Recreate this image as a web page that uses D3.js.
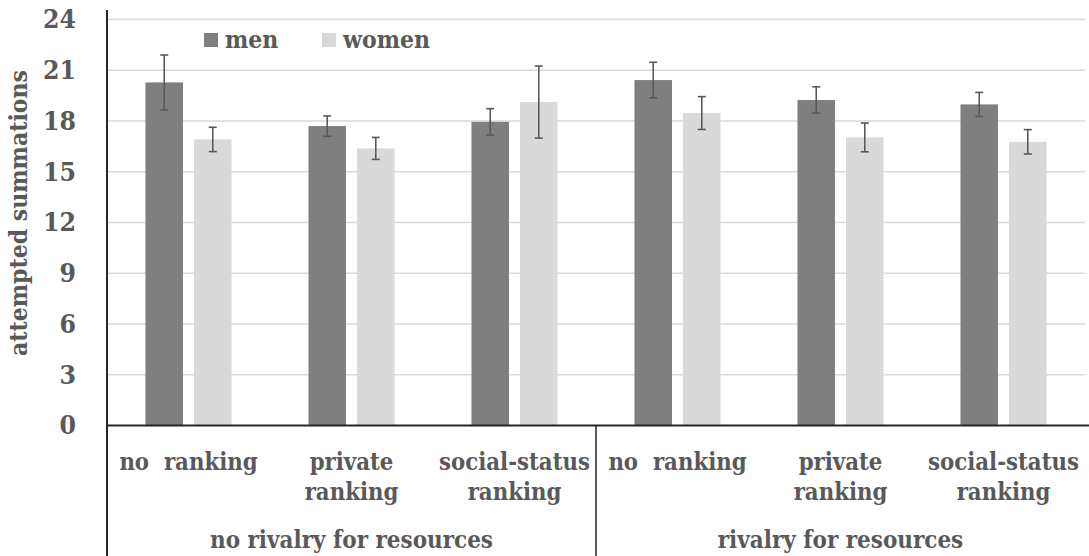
<!DOCTYPE html>
<html>
<head>
<meta charset="utf-8">
<script src="https://cdn.jsdelivr.net/npm/d3@7"></script>
<style>
  html, body { margin: 0; padding: 0; background: #fff; }
  svg { display: block; }
  text { font-family: "DejaVu Serif Condensed", "DejaVu Serif", serif; font-weight: bold; fill: #595959; white-space: pre; }
</style>
</head>
<body>
<svg id="chart" width="1089" height="556"></svg>
<script>
// ---- data ----
const groups = ["no rivalry for resources", "rivalry for resources"];
const conditions = [["no  ranking"], ["private", "ranking"], ["social-status", "ranking"]];
const categories = ["nr-none", "nr-private", "nr-social", "r-none", "r-private", "r-social"];
const seriesNames = ["men", "women"];
const menValues = [20.28, 17.70, 17.95, 20.42, 19.24, 18.98];
const womenValues = [16.91, 16.38, 19.12, 18.47, 17.03, 16.77];
const menErrors = [1.62, 0.60, 0.78, 1.05, 0.78, 0.71];
const womenErrors = [0.72, 0.65, 2.13, 0.97, 0.85, 0.72];
const yTicks = [0, 3, 6, 9, 12, 15, 18, 21, 24];
const colors = { men: "#7f7f7f", women: "#d9d9d9" };

const svg = d3.select("#chart");
const W = 1089, H = 556;
const plot = { left: 107, right: 1085, top: 19.5, bottom: 425.5 };

// measure helper to size fonts to reference widths
const meas = svg.append("text").attr("x", -1000).attr("y", -1000).style("font-size", "20px");
function fitSize(sample, target) {
  meas.text(sample);
  const w = meas.node().getComputedTextLength();
  return (20 * target / w).toFixed(2) + "px";
}
const tickFont = fitSize("24", 33);
const catFont = fitSize("social-status", 151);
const groupFont = fitSize("no rivalry for resources", 283);
const titleFont = fitSize("attempted summations", 286);
const legendFont = fitSize("women", 87);
meas.remove();

const y = d3.scaleLinear().domain([0, 24]).range([plot.bottom, plot.top]);
const x0 = d3.scaleBand().domain(categories).range([plot.left, plot.right])
  .paddingInner(0.472).paddingOuter(0.236);
const x1 = d3.scaleBand().domain(seriesNames).range([0, x0.bandwidth()]).paddingInner(0.227);

const data = categories.map((c, i) => ({
  key: c,
  men: menValues[i], women: womenValues[i],
  menErr: menErrors[i], womenErr: womenErrors[i]
}));

// gridlines
svg.append("g").selectAll("line").data(yTicks.filter(t => t > 0)).join("line")
  .attr("x1", plot.left).attr("x2", plot.right)
  .attr("y1", d => y(d)).attr("y2", d => y(d))
  .attr("stroke", "#d9d9d9").attr("stroke-width", 1.5);

// y axis tick labels
const yAxis = svg.append("g").attr("transform", `translate(${plot.left},0)`)
  .call(d3.axisLeft(y).tickValues(yTicks).tickSize(0).tickPadding(31));
yAxis.select(".domain").remove();
yAxis.selectAll("text").style("font-size", tickFont).attr("fill", "#595959")
  .attr("font-family", null);

// bars
const gBars = svg.append("g");
seriesNames.forEach(s => {
  gBars.selectAll("rect." + s).data(data).join("rect")
    .attr("class", s)
    .attr("x", d => x0(d.key) + x1(s))
    .attr("width", x1.bandwidth())
    .attr("y", d => y(d[s]))
    .attr("height", d => y(0) - y(d[s]))
    .attr("fill", colors[s]);
});

// error bars
const gErr = svg.append("g").attr("stroke", "#595959").attr("stroke-width", 1.6);
seriesNames.forEach(s => {
  const cx = d => x0(d.key) + x1(s) + x1.bandwidth() / 2;
  gErr.selectAll("line.v" + s).data(data).join("line")
    .attr("x1", cx).attr("x2", cx)
    .attr("y1", d => y(d[s] + d[s + "Err"])).attr("y2", d => y(d[s] - d[s + "Err"]));
  [1, -1].forEach(sign => {
    gErr.selectAll("line.c" + s + sign).data(data).join("line")
      .attr("x1", d => cx(d) - 4).attr("x2", d => cx(d) + 4)
      .attr("y1", d => y(d[s] + sign * d[s + "Err"])).attr("y2", d => y(d[s] + sign * d[s + "Err"]));
  });
});

// axis lines
const axisColor = "#262626";
svg.append("line").attr("x1", plot.left).attr("x2", W)
  .attr("y1", y(0)).attr("y2", y(0)).attr("stroke", axisColor).attr("stroke-width", 2);
svg.append("line").attr("x1", plot.left).attr("x2", plot.left)
  .attr("y1", 10).attr("y2", H).attr("stroke", axisColor).attr("stroke-width", 2);
// group separator
const sepX = (x0(categories[2]) + x0.bandwidth() + x0(categories[3])) / 2;
svg.append("line").attr("x1", sepX).attr("x2", sepX)
  .attr("y1", y(0)).attr("y2", H).attr("stroke", axisColor).attr("stroke-width", 1.5);

// category labels via bottom axis
const xAxis = svg.append("g").attr("transform", `translate(0,${y(0)})`)
  .call(d3.axisBottom(x0).tickSize(0).tickFormat(""));
xAxis.select(".domain").remove();
xAxis.selectAll(".tick text").remove();
xAxis.selectAll(".tick").each(function(d, i) {
  const lines = conditions[i % 3];
  const t = d3.select(this).append("text")
    .attr("text-anchor", "middle").style("font-size", catFont).attr("fill", "#595959");
  lines.forEach((ln, j) => {
    t.append("tspan").attr("x", 0).attr("y", 44 + j * 30.5).text(ln);
  });
});

// group labels
groups.forEach((g, gi) => {
  const a = gi === 0 ? plot.left : sepX;
  const b = gi === 0 ? sepX : plot.right;
  svg.append("text").attr("x", (a + b) / 2).attr("y", 548)
    .attr("text-anchor", "middle").style("font-size", groupFont).text(g);
});

// y title
svg.append("text").attr("transform", "translate(27,213) rotate(-90)")
  .attr("text-anchor", "middle").style("font-size", titleFont).text("attempted summations");

// legend
const legendX = [204, 322];
seriesNames.forEach((s, i) => {
  svg.append("rect").attr("x", legendX[i]).attr("y", 33).attr("width", 14).attr("height", 14)
    .attr("fill", colors[s]);
  svg.append("text").attr("x", legendX[i] + 21).attr("y", 48)
    .style("font-size", legendFont).text(s);
});
</script>
</body>
</html>
